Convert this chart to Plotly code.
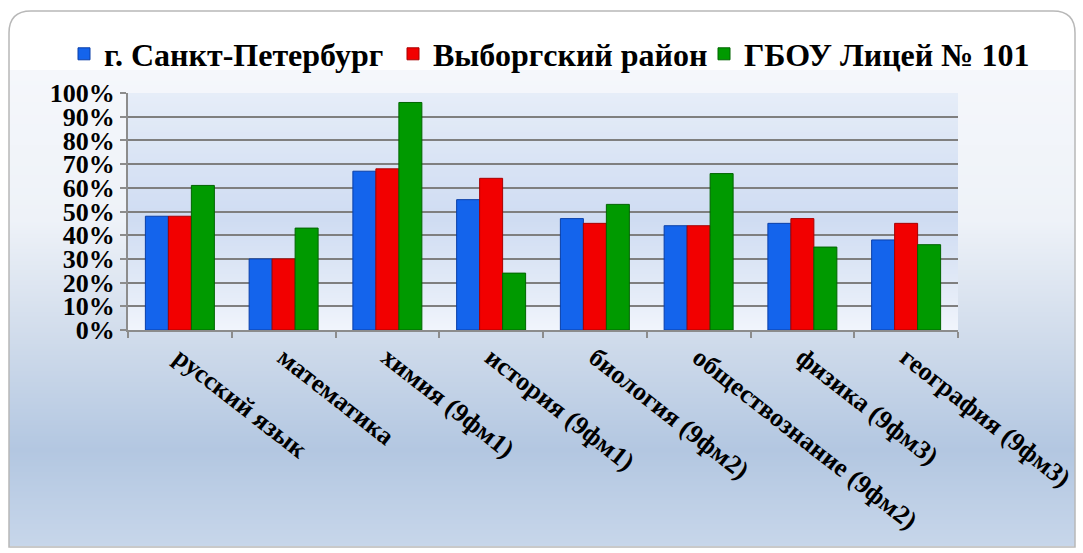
import base64
import struct
import zlib
import plotly.graph_objects as go

categories = ["русский язык", "математика", "химия (9фм1)", "история (9фм1)",
              "биология (9фм2)", "обществознание (9фм2)", "физика (9фм3)", "география (9фм3)"]
spb = [48, 30, 67, 55, 47, 44, 45, 38]
vyborg = [48, 30, 68, 64, 45, 44, 47, 45]
lyceum = [61, 43, 96, 24, 53, 66, 35, 36]
series_names = ["г. Санкт-Петербург", "Выборгский район", "ГБОУ Лицей № 101"]
y_ticks = [0, 10, 20, 30, 40, 50, 60, 70, 80, 90, 100]
y_tick_labels = [f"{v}%" for v in y_ticks]

W, H = 1083, 553
L, R, T, B = 128, 125, 93, 223
PW, PH = W - L - R, H - T - B

def px(x):
    return (x - L) / PW

def py(y):
    return (H - B - y) / PH

def hex2rgb(c):
    return [int(c[i:i + 2], 16) for i in (1, 3, 5)]

def grad(stops, y):
    for (y0, c0), (y1, c1) in zip(stops, stops[1:]):
        if y0 <= y <= y1:
            t = (y - y0) / (y1 - y0) if y1 > y0 else 0
            a, b = hex2rgb(c0), hex2rgb(c1)
            return [round(a[k] + (b[k] - a[k]) * t) for k in range(3)]
    return hex2rgb(stops[-1][1])

def gradient_png(stops, ytop, ybot):
    rows = [grad(stops, y + 0.5) for y in range(ytop, ybot)]
    raw = b"".join(b"\x00" + bytes(rgb) for rgb in rows)
    def chunk(tag, data):
        c = struct.pack(">I", len(data)) + tag + data
        return c + struct.pack(">I", zlib.crc32(tag + data) & 0xffffffff)
    png = (b"\x89PNG\r\n\x1a\n" + chunk(b"IHDR", struct.pack(">IIBBBBB", 1, len(rows), 8, 2, 0, 0, 0))
           + chunk(b"IDAT", zlib.compress(raw)) + chunk(b"IEND", b""))
    return "data:image/png;base64," + base64.b64encode(png).decode()

outer = [(70, "#f5f7fb"), (220, "#eef2f8"), (330, "#d2ddec"), (450, "#b3c7e1"), (546, "#c7d6ea")]
inner = [(93, "#e6edf8"), (150, "#dbe5f5"), (220, "#cfdcf2"), (300, "#e6edf8"), (330, "#f1f5fc")]
images = [
    dict(source=gradient_png(outer, 70, 546), xref="paper", yref="paper",
         x=px(9), y=py(70), sizex=px(1075) - px(9), sizey=py(70) - py(546),
         sizing="stretch", xanchor="left", yanchor="top", layer="below"),
    dict(source=gradient_png(inner, 93, 330), xref="paper", yref="paper",
         x=0, y=1, sizex=1, sizey=1, sizing="stretch", xanchor="left", yanchor="top", layer="below"),
]

# rounded frame
x0, x1, y0, y1, r = 9, 1075, 11, 547, 22
path = (f"M {px(x0 + r)},{py(y0)} L {px(x1 - r)},{py(y0)} "
        f"Q {px(x1)},{py(y0)} {px(x1)},{py(y0 + r)} L {px(x1)},{py(y1)} "
        f"L {px(x0)},{py(y1)} L {px(x0)},{py(y0 + r)} Q {px(x0)},{py(y0)} {px(x0 + r)},{py(y0)} Z")
shapes = [dict(type="path", xref="paper", yref="paper", path=path, layer="below",
               line=dict(color="#b8b8b8", width=1.5), fillcolor="rgba(0,0,0,0)")]

colors = ["#1464ec", "#f20000", "#009a00"]
edges = ["#0a3fa8", "#a80000", "#006400"]
legend_ids = ["legend", "legend2", "legend3"]
legend_x = [64, 393, 704]

fig = go.Figure()
for name, vals, c, e, lg in zip(series_names, [spb, vyborg, lyceum], colors, edges, legend_ids):
    fig.add_trace(go.Bar(x=categories, y=vals, name=name, legend=lg,
                         marker=dict(color=c, line=dict(width=1, color=e))))

font_serif = "Liberation Serif"
legend_font = dict(family=font_serif, size=32, weight="bold")
legends = {}
for lg, lx in zip(legend_ids, legend_x):
    legends[lg] = dict(orientation="h", x=px(lx), xanchor="left", y=py(54), yanchor="middle",
                       font=legend_font, bgcolor="rgba(0,0,0,0)", itemwidth=30)

fig.update_layout(
    width=W, height=H,
    font=dict(family=font_serif, color="#000000"),
    margin=dict(l=L, r=R, t=T, b=B, autoexpand=False),
    paper_bgcolor="white", plot_bgcolor="rgba(0,0,0,0)",
    barmode="group", bargap=0.335, bargroupgap=0,
    shapes=shapes, images=images,
    showlegend=True,
    **legends,
    xaxis=dict(tickangle=38, tickfont=dict(family=font_serif, size=26, weight="bold"),
               showline=True, linecolor="#8c8c8c", linewidth=2,
               ticks="outside", tickson="boundaries", ticklen=6, tickcolor="#8c8c8c", tickwidth=2,
               showgrid=False),
    yaxis=dict(range=[0, 100], tickvals=y_ticks, ticktext=y_tick_labels,
               tickfont=dict(family=font_serif, size=26, weight="bold"),
               showline=True, linecolor="#8c8c8c", linewidth=2,
               ticks="outside", ticklen=6, tickcolor="#8c8c8c", tickwidth=2,
               showgrid=True, gridcolor="#7f7f7f", gridwidth=2, zeroline=False),
)
fig.write_html("out.html", config={"displayModeBar": False},
               post_script="document.body.style.margin='0';")
